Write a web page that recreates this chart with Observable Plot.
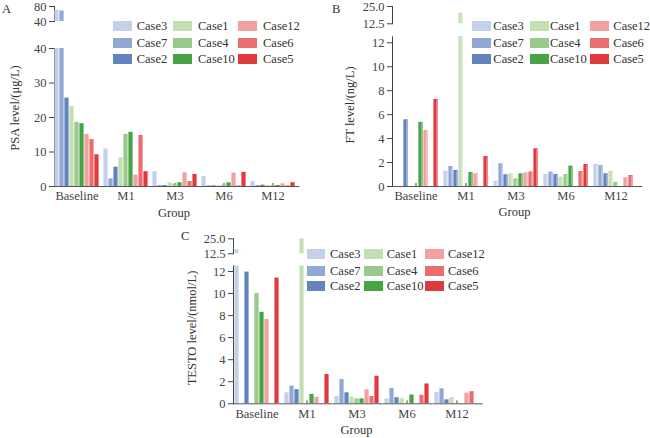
<!DOCTYPE html>
<html><head><meta charset="utf-8">
<script src="https://cdn.jsdelivr.net/npm/d3@7"></script>
<script src="https://cdn.jsdelivr.net/npm/@observablehq/plot@0.6"></script>
<style>
body{margin:0;background:#fff;}
#fig{position:relative;width:650px;height:438px;font-family:"Liberation Serif",serif;color:#333;overflow:hidden;}
#fig svg{position:absolute;}
#fig svg text{font-family:"Liberation Serif",serif !important;font-size:12.5px;}
.t{position:absolute;font-size:12.5px;line-height:16px;white-space:nowrap;color:#333;}
.sw{position:absolute;width:18.5px;height:10px;}
</style></head><body><div id="fig"></div><script>
// ---- data ----
const groups = ["Baseline","M1","M3","M6","M12"];
const cases = ["Case3","Case7","Case2","Case1","Case4","Case10","Case12","Case6","Case5"];
const caseColors = ["#c3d1e8","#8fa8d6","#6283bd","#c4dfb2","#99ca8a","#46a444","#f3a0a0","#ea6e70","#e03a3f"];
// rows follow `cases`, columns follow `groups`
const psa = [
  [70, 10.9, 4.3, 2.9, 1.45],
  [68, 2.2, 0.3, 0.2, 0.3],
  [25.6, 5.6, 0.3, 0.2, 0.4],
  [23.2, 8.3, 1.05, 0.2, 0.3],
  [18.6, 15.1, 0.7, 0.4, 0.2],
  [18.2, 15.7, 1.1, 1.07, 0.3],
  [15.1, 3.3, 3.95, 3.9, 0.78],
  [13.6, 14.8, 1.45, 0.2, 0.2],
  [9.2, 4.3, 3.5, 4.1, 1.1]
];
const ft = [
  [0, 1.28, 0.44, 1.0, 1.84],
  [0, 1.67, 1.9, 1.2, 1.75],
  [5.57, 1.34, 0.98, 1.0, 1.06],
  [0, 20.2, 1.06, 0.78, 1.28],
  [0, 0, 0.64, 1.0, 0.35],
  [5.35, 1.17, 1.06, 1.7, 0],
  [4.68, 1.06, 1.14, 0, 0.73],
  [0, 0, 1.22, 1.25, 0.92],
  [7.27, 2.5, 3.15, 1.84, 0]
];
const testo = [
  [15.8, 1.0, 0.66, 0.42, 1.03],
  [0, 1.6, 2.2, 1.4, 1.36],
  [11.95, 1.28, 1.0, 0.55, 0.36],
  [0, 25, 0.6, 0.45, 0.55],
  [10.0, 0, 0.45, 0, 0],
  [8.3, 0.85, 0.45, 0.8, 0],
  [7.65, 0.6, 1.27, 0, 0.97],
  [0, 0, 0.66, 0.77, 1.1],
  [11.4, 2.66, 2.5, 1.8, 0]
];
const psaTicksLow = [0,10,20,30,40], psaTicksHigh = [40,80];
const ftTicksLow = [0,2,4,6,8,10,12], ftTicksHigh = [12.5,25];
const testoTicksLow = [0,2,4,6,8,10,12], testoTicksHigh = [12.5,25];
const yTitles = ["PSA level/(μg/L)","FT level/(ng/L)","TESTO level/(nmol/L)"];
const xTitle = "Group";
const panelLetters = ["A","B","C"];

// ---- drawing ----
const fig = document.getElementById("fig");
function tidy(values){
  const out=[];
  cases.forEach((c,i)=>groups.forEach((g,j)=>out.push({group:g, case:c, value:values[i][j]})));
  return out;
}
function segment(o){
  const marks = [Plot.barY(o.data, {fx:"group", x:"case", y:"value", fill:"case", clip:true, insetLeft:0.4, insetRight:0.4})];
  if (o.highlight) marks.push(Plot.barY(o.data, {fx:"group", x:"case", y:"value", fill:"white", fillOpacity:0.4, clip:true, insetLeft:3.2, insetRight:1, insetTop:1}));
  if (o.xAxis) marks.push(Plot.ruleY([0], {stroke:"#555", insetRight:-o.gap}));
  const svg = Plot.plot({
    width:o.width, height:o.height,
    marginTop:o.m[0], marginRight:o.m[1], marginBottom:o.m[2], marginLeft:o.m[3],
    style:{background:"transparent", fontFamily:"'Liberation Serif', serif", fontSize:"12.5px", color:"#444", overflow:"visible"},
    fx:{domain:groups, paddingInner:o.pad, paddingOuter:0, label:null, axis:o.xAxis ? "bottom" : null, tickSize:-3, tickPadding:8},
    x:{domain:cases, axis:null, padding:0},
    y:{domain:o.domain, ticks:o.ticks, tickFormat:o.fmt, tickSize:5, tickPadding:3, line:true, label:null},
    color:{domain:cases, range:caseColors},
    marks
  });
  svg.style.left = o.left+"px"; svg.style.top = o.top+"px";
  fig.appendChild(svg);
}
function text(str, x, y, rotate, anchor){
  const d = document.createElement("div");
  d.className = "t"; d.textContent = str;
  d.style.left = x+"px"; d.style.top = y+"px";
  d.style.transform = rotate ? "translate(-50%,-50%) rotate(-90deg)" : (anchor==="middle" ? "translate(-50%,-50%)" : "translate(0,-50%)");
  fig.appendChild(d);
}
function legend(swX, txX, rowY){
  cases.forEach((c,i)=>{
    const col = Math.floor(i/3), row = i%3;
    const s = document.createElement("div");
    s.className = "sw"; s.style.left = swX[col]+"px"; s.style.top = (rowY[row]-5)+"px";
    s.style.background = caseColors[i];
    fig.appendChild(s);
    text(c, txX[col], rowY[row]);
  });
}

const fmtInt = d => String(d), fmt1 = d3.format(".1f");
// Panel A
segment({data:tidy(psa), left:0, top:0, width:325, height:220, m:[48,29.8,34,53], pad:0.0872, gap:4.3, domain:[0,40], ticks:psaTicksLow, fmt:fmtInt, xAxis:true});
segment({data:tidy(psa), left:0, top:0, width:325, height:220, m:[6,29.8,199,53], pad:0.0872, gap:4.3, domain:[40,80], ticks:psaTicksHigh, fmt:fmtInt, xAxis:false});
// Panel B
segment({data:tidy(ft), left:325, top:0, width:325, height:220, m:[36.3,11.2,34,67], pad:0.064, gap:3.2, domain:[0,12.5], ticks:ftTicksLow, fmt:fmtInt, xAxis:true, highlight:true});
segment({data:tidy(ft), left:325, top:0, width:325, height:220, m:[6,11.2,196.7,67], pad:0.064, gap:3.2, domain:[12.5,25], ticks:ftTicksHigh, fmt:fmt1, xAxis:false, highlight:true});
// Panel C
segment({data:tidy(testo), left:160, top:220, width:340, height:218, m:[45.5,19.7,34.7,73], pad:0.054, gap:2.7, domain:[0,12.5], ticks:testoTicksLow, fmt:fmtInt, xAxis:true});
segment({data:tidy(testo), left:160, top:220, width:340, height:218, m:[18.3,19.7,184.7,73], pad:0.054, gap:2.7, domain:[12.5,25], ticks:testoTicksHigh, fmt:fmt1, xAxis:false});

legend([113,173,238],[136.7,198,263],[26,42.7,58.7]);
legend([472,530,590],[493.3,550,613.3],[26,42.7,58.7]);
legend([306.7,364,425],[330,386.7,448],[254,270.7,286.3]);

text(yTitles[0], 15, 108, true);
text(yTitles[1], 350, 105, true);
text(yTitles[2], 192, 327.5, true);
text(xTitle, 174, 212.5, false, "middle");
text(xTitle, 514.5, 211.7, false, "middle");
text(xTitle, 356.5, 430, false, "middle");
text(panelLetters[0], 2, 9);
text(panelLetters[1], 332, 8.5);
text(panelLetters[2], 181, 236);
</script></body></html>
